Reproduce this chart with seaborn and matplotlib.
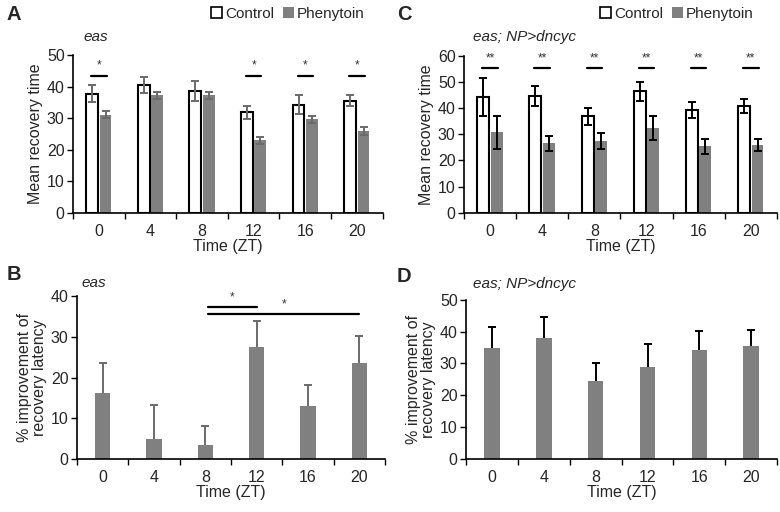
import numpy as np
import pandas as pd
import matplotlib
matplotlib.use("Agg")
import matplotlib.pyplot as plt
import seaborn as sns
from matplotlib.patches import Patch

# values
times = ["0", "4", "8", "12", "16", "20"]
groups = ["Control", "Phenytoin"]

# A: eas, mean recovery time
a_control = [37.7, 40.5, 38.5, 31.8, 34.3, 35.5]
a_control_err = [2.7, 2.5, 3.1, 2.1, 2.9, 1.8]
a_phen = [31.1, 37.2, 37.2, 22.9, 29.6, 25.9]
a_phen_err = [1.1, 1.0, 1.0, 1.0, 1.2, 1.2]
a_sig = ["*", "", "", "*", "*", "*"]

# C: eas; NP>dncyc, mean recovery time
c_control = [44.4, 44.6, 36.9, 46.5, 39.2, 40.9]
c_control_err = [7.2, 3.8, 3.2, 3.7, 3.1, 2.6]
c_phen = [30.8, 26.6, 27.6, 32.4, 25.4, 25.9]
c_phen_err = [6.4, 2.9, 3.1, 4.5, 3.0, 2.2]
c_sig = ["**", "**", "**", "**", "**", "**"]

# B: eas, % improvement
b_impr = [16.3, 5.0, 3.4, 27.6, 13.0, 23.6]
b_impr_err = [7.4, 8.3, 4.6, 6.3, 5.2, 6.7]
b_pairs = [("8", "12", 37.3), ("8", "20", 35.7)]

# D: eas; NP>dncyc, % improvement
d_impr = [34.8, 38.1, 24.6, 29.0, 34.1, 35.6]
d_impr_err = [6.7, 6.5, 5.7, 7.1, 6.0, 4.9]

GRAY = "#808080"
FS = 11.5

sns.set_style("ticks")
plt.rcParams["font.family"] = ["Liberation Sans", "DejaVu Sans"]
plt.rcParams["font.size"] = 10


def style_axis(ax, ymax, ylabel):
    ax.set_xlim(-0.5, 5.5)
    ax.set_ylim(0, ymax)
    ax.set_yticks(np.arange(0, ymax + 1, 10))
    ax.set_xticks(np.arange(-0.5, 6, 1), minor=True)
    ax.tick_params(axis="x", which="major", length=0, pad=8, labelsize=FS)
    ax.tick_params(axis="x", which="minor", length=4, width=1, color="black", direction="out")
    ax.tick_params(axis="y", length=4, width=1, color="black", labelsize=FS, pad=2)
    sns.despine(ax=ax)
    for s in ("left", "bottom"):
        ax.spines[s].set_linewidth(1.2)
        ax.spines[s].set_color("black")
    ax.set_xlabel("Time (ZT)", fontsize=FS, labelpad=0)
    ax.set_ylabel(ylabel, fontsize=FS, labelpad=3, linespacing=1.0)


def grouped(ax, ctrl, ctrl_err, phen, phen_err, sig, ymax, sig_y, ecolor):
    df = pd.DataFrame({
        "time": times * 2,
        "group": ["Control"] * 6 + ["Phenytoin"] * 6,
        "value": ctrl + phen,
    })
    sns.barplot(data=df, x="time", y="value", hue="group", order=times,
                hue_order=groups, palette={"Control": "white", "Phenytoin": GRAY},
                width=0.52, gap=0.12, errorbar=None, legend=False, ax=ax)
    errs = [ctrl_err, phen_err]
    bars = list(ax.containers)[:2]
    centers = []
    for k, cont in enumerate(bars):
        cx = []
        for bar, e in zip(cont, errs[k]):
            if k == 0:
                bar.set_edgecolor("black")
                bar.set_linewidth(1.5)
            else:
                bar.set_edgecolor("none")
            x = bar.get_x() + bar.get_width() / 2
            cx.append(x)
            ax.errorbar(x, bar.get_height(), yerr=e, color=ecolor, lw=1.4,
                        capsize=3.2, capthick=1.4, zorder=4)
        centers.append(cx)
    for i, s in enumerate(sig):
        if not s:
            continue
        x0, x1 = centers[0][i] - 0.02, centers[1][i] + 0.02
        ax.plot([x0, x1], [sig_y, sig_y], color="black", lw=1.6, clip_on=False)
        ax.text((x0 + x1) / 2, sig_y + ymax * 0.025, s, ha="center", va="bottom",
                fontsize=8.5, color="#333333")


def single(ax, vals, errs, ecolor):
    df = pd.DataFrame({"time": times, "value": vals})
    sns.barplot(data=df, x="time", y="value", order=times, color=GRAY,
                width=0.3, errorbar=None, ax=ax, saturation=1)
    centers = []
    for bar, e in zip(list(ax.containers[0]), errs):
        bar.set_edgecolor("none")
        x = bar.get_x() + bar.get_width() / 2
        centers.append(x)
        eb = ax.errorbar(x, bar.get_height(), yerr=[[0], [e]], color=ecolor, lw=1.4,
                         capsize=3.2, capthick=1.4, zorder=4)
        eb[1][0].set_visible(False)  # no cap at the bar top
    return centers


fig = plt.figure(figsize=(7.8, 5.12), dpi=100)
axA = fig.add_axes([0.0936, 0.5846, 0.397, 0.308])
axC = fig.add_axes([0.5949, 0.5846, 0.401, 0.306])
axB = fig.add_axes([0.0987, 0.1035, 0.395, 0.318])
axD = fig.add_axes([0.5974, 0.1035, 0.399, 0.311])

grouped(axA, a_control, a_control_err, a_phen, a_phen_err, a_sig, 50, 43.4, "#6a6a6a")
style_axis(axA, 50, "Mean recovery time")

grouped(axC, c_control, c_control_err, c_phen, c_phen_err, c_sig, 60, 55.3, "black")
style_axis(axC, 60, "Mean recovery time")

bc = single(axB, b_impr, b_impr_err, "#6a6a6a")
style_axis(axB, 40, "% improvement of\nrecovery latency")
for a, b, y in b_pairs:
    x0 = bc[times.index(a)] + 0.05
    x1 = bc[times.index(b)]
    axB.plot([x0, x1], [y, y], color="black", lw=1.6, clip_on=False)
    axB.text((x0 + x1) / 2, y + 0.8, "*", ha="center", va="bottom",
             fontsize=8.5, color="#333333")

single(axD, d_impr, d_impr_err, "black")
style_axis(axD, 50, "% improvement of\nrecovery latency")

# panel letters and genotype labels
for lab, x, y in [("A", 7, 15), ("C", 397, 15), ("B", 7, 275), ("D", 397, 276)]:
    fig.text(x / 780, 1 - y / 512, lab, fontsize=14.5, fontweight="bold",
             ha="left", va="center")
for lab, x, y in [("eas", 83, 37), ("eas; NP>dncyc", 473, 37),
                  ("eas", 81, 283), ("eas; NP>dncyc", 473, 284)]:
    fig.text(x / 780, 1 - y / 512, lab, fontsize=11, style="italic",
             ha="left", va="center")

handles = [Patch(facecolor="white", edgecolor="black", lw=1.2, label="Control"),
           Patch(facecolor=GRAY, edgecolor="none", label="Phenytoin")]
for cx in (288 / 780, 677 / 780):
    fig.legend(handles=handles, loc="center", bbox_to_anchor=(cx, 1 - 14 / 512),
               ncol=2, frameon=False, fontsize=11, handlelength=0.7,
               handleheight=0.7, handletextpad=0.2, columnspacing=0.6,
               borderpad=0)

fig.savefig("out.png", dpi=100, facecolor="white")
